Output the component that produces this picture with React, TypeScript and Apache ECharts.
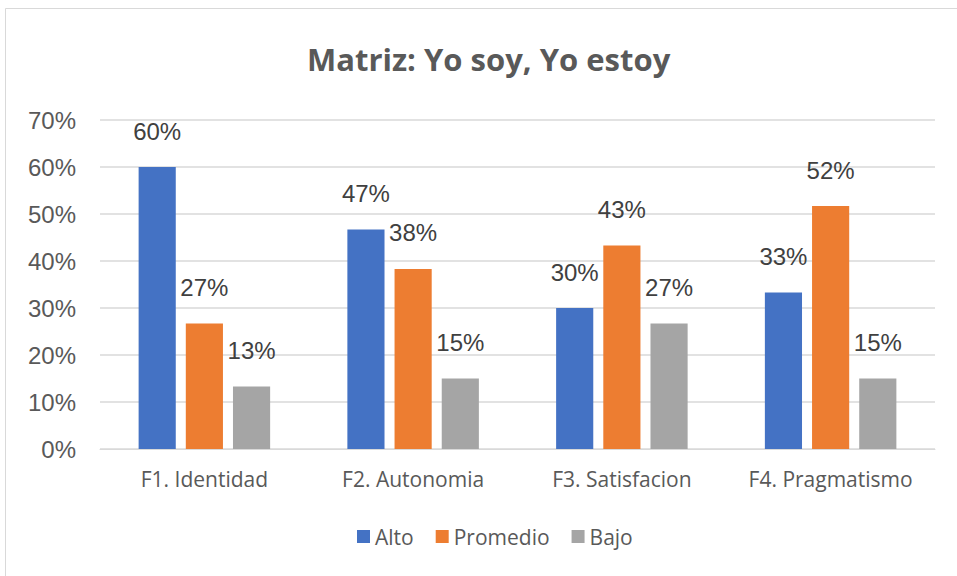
import React, { useEffect, useRef } from "react";
import * as echarts from "echarts";

const categories = ["F1. Identidad", "F2. Autonomia", "F3. Satisfacion", "F4. Pragmatismo"];
const seriesNames = ["Alto", "Promedio", "Bajo"];
const alto = [60.0, 46.7, 30.0, 33.3];
const promedio = [26.7, 38.3, 43.3, 51.7];
const bajo = [13.3, 15.0, 26.7, 15.0];
const yTicks = { min: 0, max: 70, interval: 10 };
const colors = ["#4472C4", "#ED7D31", "#A5A5A5"];

export default function App() {
  const ref = useRef<HTMLDivElement>(null);
  useEffect(() => {
    if (!ref.current) return;
    const chart = echarts.init(ref.current, null, { renderer: "svg" });
    const data = [alto, promedio, bajo];
    chart.setOption({
      animation: false,
      backgroundColor: "#ffffff",
      title: {
        text: "Matriz: Yo soy, Yo estoy",
        left: 302,
        top: 38,
        textStyle: {
          fontFamily: "Open Sans",
          fontSize: 31,
          fontWeight: "bold",
          color: "#595959",
        },
      },
      graphic: [
        {
          type: "rect",
          shape: { x: 5.5, y: 8.5, width: 1000, height: 600 },
          style: { fill: "none", stroke: "#d9d9d9", lineWidth: 1 },
          silent: true,
        },
      ],
      legend: {
        bottom: 24,
        left: 352,
        itemWidth: 13,
        itemHeight: 13,
        itemGap: 22,
        icon: "rect",
        textStyle: { fontFamily: "Open Sans", fontSize: 21, color: "#595959" },
        data: seriesNames,
      },
      grid: { left: 100, right: 22, top: 120, bottom: 127, containLabel: false },
      xAxis: {
        type: "category",
        data: categories,
        axisLine: { lineStyle: { color: "#d9d9d9" } },
        axisTick: { show: false },
        axisLabel: {
          fontFamily: "Open Sans",
          fontSize: 21,
          color: "#595959",
          margin: 19,
          interval: 0,
        },
      },
      yAxis: {
        type: "value",
        min: yTicks.min,
        max: yTicks.max,
        interval: yTicks.interval,
        axisLine: { show: false },
        axisTick: { show: false },
        splitLine: { lineStyle: { color: "#d9d9d9", width: 1.5 } },
        axisLabel: {
          fontFamily: "Liberation Sans",
          fontSize: 24,
          color: "#595959",
          margin: 24,
          formatter: (v: number) => v + "%",
        },
      },
      series: seriesNames.map((name, i) => ({
        name,
        type: "bar",
        data: data[i],
        barCategoryGap: "37%",
        barGap: "27%",
        itemStyle: { color: colors[i] },
        label: {
          show: true,
          position: "top",
          distance: 24,
          fontFamily: "Liberation Sans",
          fontSize: 24,
          color: "#404040",
          formatter: (p: any) => Math.round(p.value) + "%",
        },
      })),
    });
    return () => chart.dispose();
  }, []);
  return <div ref={ref} style={{ width: 957, height: 576, position: "absolute", left: 0, top: 0 }} />;
}
